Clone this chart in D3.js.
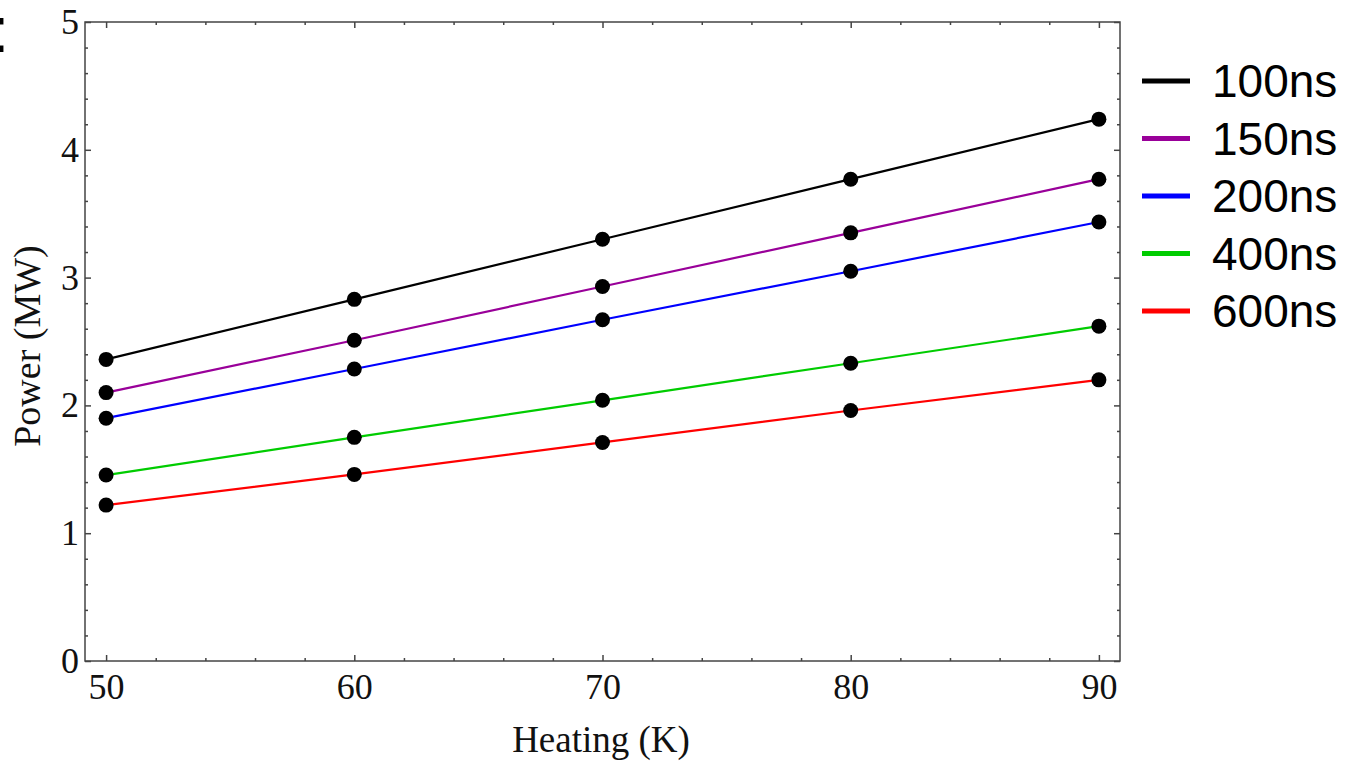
<!DOCTYPE html>
<html>
<head>
<meta charset="utf-8">
<script src="https://cdn.jsdelivr.net/npm/d3@7"></script>
<style>
  body { margin: 0; background: #fff; }
  svg { display: block; }
  .axis path, .axis line { stroke: #444; }
  .axis text { font-family: "Liberation Serif", "Times New Roman", serif; font-size: 36px; fill: #111; }
  .legend-text { font-family: "Liberation Sans", Arial, sans-serif; font-size: 46px; fill: #000; }
</style>
</head>
<body>
<div id="chart"></div>
<script>
// data
const heating = [50, 60, 70, 80, 90];
const seriesNames = ["100ns", "150ns", "200ns", "400ns", "600ns"];
const power100 = [2.36, 2.83, 3.30, 3.77, 4.24];
const power150 = [2.10, 2.51, 2.93, 3.35, 3.77];
const power200 = [1.90, 2.285, 2.67, 3.05, 3.435];
const power400 = [1.455, 1.75, 2.04, 2.33, 2.62];
const power600 = [1.22, 1.46, 1.71, 1.96, 2.20];
const seriesColors = ["#000000", "#990099", "#0000ff", "#00cc00", "#ff0000"];
const xTicks = [50, 60, 70, 80, 90];
const yTicks = [0, 1, 2, 3, 4, 5];

const allSeries = [power100, power150, power200, power400, power600];

const width = 1349, height = 763;
const margin = {top: 22, right: 229, bottom: 102, left: 85};

const svg = d3.select("#chart").append("svg")
    .attr("width", width)
    .attr("height", height);

// scales
const x = d3.scaleLinear()
    .domain([49.15, 90.85])
    .range([margin.left, width - margin.right]);

const y = d3.scaleLinear()
    .domain([0, 5])
    .range([height - margin.bottom, margin.top]);

const xMinor = d3.range(50, 91, 2).filter(v => v % 10 !== 0);
const yMinor = d3.range(0, 5.01, 0.2).map(v => +v.toFixed(1)).filter(v => !Number.isInteger(v));

// frame
svg.append("rect")
    .attr("x", x.range()[0])
    .attr("y", y.range()[1])
    .attr("width", x.range()[1] - x.range()[0])
    .attr("height", y.range()[0] - y.range()[1])
    .attr("fill", "none")
    .attr("stroke", "#444")
    .attr("stroke-width", 1.5);

// bottom axis with labels
const bottom = svg.append("g")
    .attr("class", "axis")
    .attr("transform", `translate(0, ${y.range()[0]})`)
    .call(d3.axisBottom(x).tickValues(xTicks).tickSize(-6).tickPadding(12).tickFormat(d3.format("d")));
bottom.select(".domain").remove();
bottom.selectAll("text").attr("dy", "0.71em");

svg.append("g")
    .attr("class", "axis")
    .attr("transform", `translate(0, ${y.range()[0]})`)
    .call(d3.axisBottom(x).tickValues(xMinor).tickSize(-3).tickFormat(""))
    .select(".domain").remove();

// top axis (ticks only)
svg.append("g")
    .attr("class", "axis")
    .attr("transform", `translate(0, ${y.range()[1]})`)
    .call(d3.axisTop(x).tickValues(xTicks).tickSize(-6).tickFormat(""))
    .select(".domain").remove();
svg.append("g")
    .attr("class", "axis")
    .attr("transform", `translate(0, ${y.range()[1]})`)
    .call(d3.axisTop(x).tickValues(xMinor).tickSize(-3).tickFormat(""))
    .select(".domain").remove();

// left axis with labels
svg.append("g")
    .attr("class", "axis")
    .attr("transform", `translate(${x.range()[0]}, 0)`)
    .call(d3.axisLeft(y).tickValues(yTicks).tickSize(-6).tickPadding(6).tickFormat(d3.format("d")))
    .select(".domain").remove();
svg.append("g")
    .attr("class", "axis")
    .attr("transform", `translate(${x.range()[0]}, 0)`)
    .call(d3.axisLeft(y).tickValues(yMinor).tickSize(-3).tickFormat(""))
    .select(".domain").remove();

// right axis (ticks only)
svg.append("g")
    .attr("class", "axis")
    .attr("transform", `translate(${x.range()[1]}, 0)`)
    .call(d3.axisRight(y).tickValues(yTicks).tickSize(-6).tickFormat(""))
    .select(".domain").remove();
svg.append("g")
    .attr("class", "axis")
    .attr("transform", `translate(${x.range()[1]}, 0)`)
    .call(d3.axisRight(y).tickValues(yMinor).tickSize(-3).tickFormat(""))
    .select(".domain").remove();

svg.selectAll(".axis line").attr("stroke-width", 1.5);

// axis titles
svg.append("text")
    .attr("x", 601)
    .attr("y", 752)
    .attr("text-anchor", "middle")
    .style("font-family", '"Liberation Serif", "Times New Roman", serif')
    .style("font-size", "37px")
    .attr("fill", "#111")
    .text("Heating (K)");

svg.append("text")
    .attr("transform", "translate(40, 346) rotate(-90)")
    .attr("text-anchor", "middle")
    .style("font-family", '"Liberation Serif", "Times New Roman", serif')
    .style("font-size", "38px")
    .attr("fill", "#111")
    .text("Power (MW)");

// lines and points
const line = d3.line()
    .x((d, i) => x(heating[i]))
    .y(d => y(d));

allSeries.forEach((vals, k) => {
    svg.append("path")
        .datum(vals)
        .attr("fill", "none")
        .attr("stroke", seriesColors[k])
        .attr("stroke-width", 2.2)
        .attr("d", line);
});

allSeries.forEach(vals => {
    svg.selectAll(null)
        .data(vals)
        .enter().append("circle")
        .attr("cx", (d, i) => x(heating[i]))
        .attr("cy", d => y(d))
        .attr("r", 7.5)
        .attr("fill", "#000");
});

// legend
const legend = svg.append("g")
    .attr("transform", "translate(1142, 81)");

seriesNames.forEach((name, k) => {
    const g = legend.append("g").attr("transform", `translate(0, ${k * 57.5})`);
    g.append("line")
        .attr("x1", 0).attr("x2", 48)
        .attr("y1", 0).attr("y2", 0)
        .attr("stroke", seriesColors[k])
        .attr("stroke-width", 5);
    g.append("text")
        .attr("class", "legend-text")
        .attr("x", 70)
        .attr("y", 0)
        .attr("dy", "0.35em")
        .text(name);
});

// stray colon at the far left edge of the original figure (cut off there too)
svg.append("text")
    .attr("x", -8.6)
    .attr("y", 51.5)
    .style("font-family", '"Liberation Sans", Arial, sans-serif')
    .style("font-size", "64px")
    .attr("fill", "#000")
    .text(":");
</script>
</body>
</html>
